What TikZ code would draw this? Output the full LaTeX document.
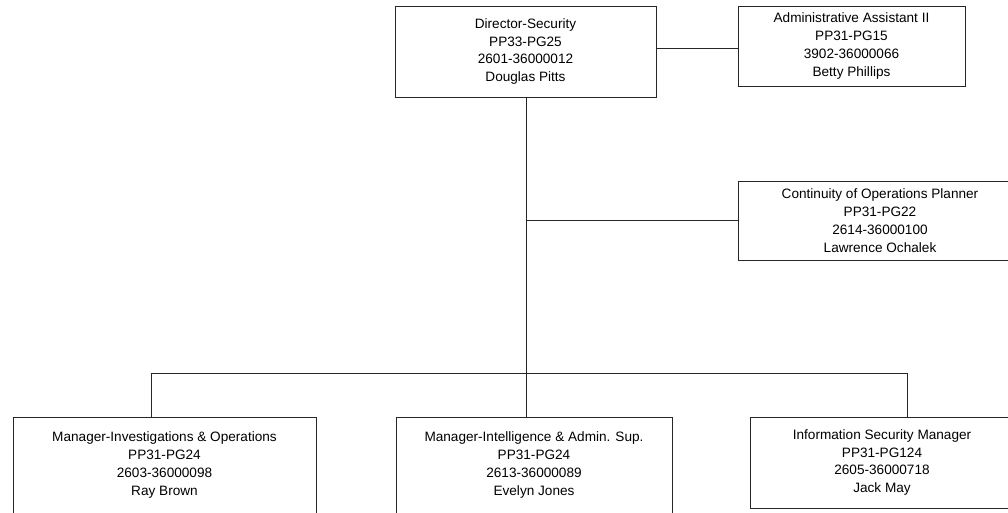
\documentclass[tikz,border=0pt]{standalone}
\usepackage{fontspec}
\setmainfont{Liberation Sans}
\begin{document}
\begin{tikzpicture}[x=1pt,y=-1pt,
  box/.style={draw=black!85,line width=1pt,rectangle,inner sep=0pt,align=center,
    font=\fontsize{13.6pt}{17.8pt}\selectfont},
  link/.style={draw=black!85,line width=1pt}]
\useasboundingbox (0,0) rectangle (1008,512);
\clip (0,0) rectangle (1008,512);
\fill[white] (0,0) rectangle (1008,512);
\node[box,minimum width=261pt,minimum height=91pt] (dir) at (525.5,51.5)
  {Director-Security\\PP33-PG25\\2601-36000012\\Douglas Pitts};
\node[box,minimum width=227pt,minimum height=80pt] (adm) at (851.5,46)
  {Administrative Assistant II\\PP31-PG15\\3902-36000066\\Betty Phillips};
\node[box,minimum width=284pt,minimum height=79pt] (cont) at (880,220.5)
  {Continuity of Operations Planner\\PP31-PG22\\2614-36000100\\Lawrence Ochalek};
\node[box,minimum width=303pt,minimum height=96pt] (b1) at (164.5,465)
  {Manager-Investigations \& Operations\\PP31-PG24\\2603-36000098\\Ray Brown};
\node[box,minimum width=276pt,minimum height=96pt] (b2) at (534,465)
  {Manager-Intelligence \& Admin. Sup.\\PP31-PG24\\2613-36000089\\Evelyn Jones};
\node[box,minimum width=264pt,minimum height=91pt] (b3) at (882,462.5)
  {Information Security Manager\\PP31-PG124\\2605-36000718\\Jack May};
\coordinate (bar) at (526,373);
\coordinate (d1) at (151,373);
\coordinate (d3) at (907,373);
\coordinate (t) at (526,97);
\draw[link] (t) -- (bar);
\draw[link] (adm.west |- 0,48) -- (dir.east |- 0,48);
\draw[link] (cont.west) -- (cont.west -| t);
\draw[link] (d1) -- (d3);
\draw[link] (d1) -- (d1 |- b1.north);
\draw[link] (bar) -- (bar |- b2.north);
\draw[link] (d3) -- (d3 |- b3.north);
\end{tikzpicture}
\end{document}
